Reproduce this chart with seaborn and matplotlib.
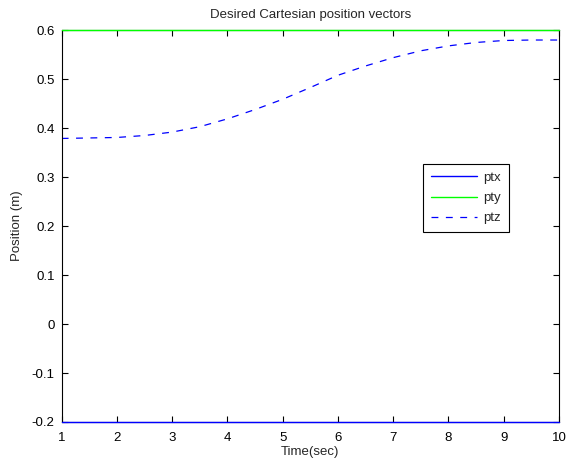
import numpy as np
import pandas as pd
import matplotlib
matplotlib.use("Agg")
import matplotlib.pyplot as plt
import seaborn as sns

# values
time_sec = [1, 1.5, 2, 2.5, 3, 3.5, 4, 4.5, 5, 5.5, 6, 6.5, 7, 7.5, 8, 8.5, 9, 9.5, 10]
ptx = [-0.2] * len(time_sec)
pty = [0.6] * len(time_sec)
ptz = [0.379, 0.380, 0.381, 0.385, 0.392, 0.403, 0.419, 0.438, 0.459, 0.483, 0.508,
       0.527, 0.544, 0.558, 0.568, 0.575, 0.579, 0.580, 0.580]

x_ticks = list(range(1, 11))
y_ticks = [-0.2, -0.1, 0, 0.1, 0.2, 0.3, 0.4, 0.5, 0.6]
y_labels = ['-0.2', '-0.1', '0', '0.1', '0.2', '0.3', '0.4', '0.5', '0.6']


def main():
    sns.set_style("ticks")
    plt.rcParams['font.family'] = ['Liberation Sans', 'DejaVu Sans']
    plt.rcParams['font.size'] = 9.5

    df = pd.DataFrame({'t': time_sec, 'ptx': ptx, 'pty': pty, 'ptz': ptz})

    fig = plt.figure(figsize=(5.68, 4.65), dpi=100)
    ax = fig.add_axes([0.1086, 0.0925, 0.8754, 0.8425])

    sns.lineplot(data=df, x='t', y='ptx', ax=ax, color=(0, 0, 1), lw=1.0,
                 label='ptx', clip_on=False, zorder=5)
    sns.lineplot(data=df, x='t', y='pty', ax=ax, color=(0, 1, 0), lw=1.0,
                 label='pty', clip_on=False, zorder=5)
    sns.lineplot(data=df, x='t', y='ptz', ax=ax, color=(0, 0, 1), lw=0.9,
                 label='ptz')
    # dashed style for ptz (seaborn's dashes arg only applies with style=)
    ax.lines[-1].set_dashes((5.5, 6))

    ax.set_xlim(1, 10)
    ax.set_ylim(-0.2, 0.6)
    ax.set_xticks(x_ticks)
    ax.set_yticks(y_ticks)
    ax.set_yticklabels(y_labels)
    ax.tick_params(direction='in', top=True, right=True, length=4, width=0.8,
                   colors='black', labelsize=9.5)
    ax.tick_params(axis='x', pad=7)
    ax.tick_params(axis='y', pad=5)
    for s in ax.spines.values():
        s.set_color('black')
        s.set_linewidth(0.8)

    ax.set_xlabel('Time(sec)', fontsize=9.5, labelpad=2)
    ax.set_ylabel('Position (m)', fontsize=9.5, labelpad=6)
    ax.set_title('Desired Cartesian position vectors', fontsize=9.5, pad=9)

    leg = ax.legend(loc='upper left', bbox_to_anchor=(0.727, 0.659), fancybox=False,
                    edgecolor='black', framealpha=1, fontsize=9.5, handlelength=3.5,
                    borderpad=0.6, labelspacing=0.6, handletextpad=0.45,
                    borderaxespad=0)
    leg.get_frame().set_linewidth(0.8)

    fig.savefig('out.png', dpi=100)


if __name__ == "__main__":
    main()
